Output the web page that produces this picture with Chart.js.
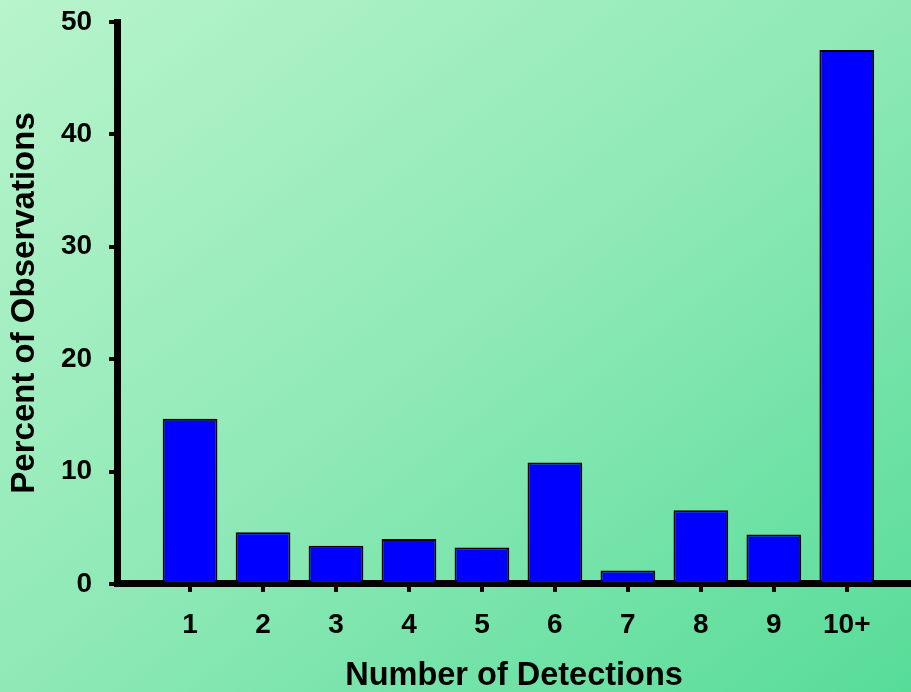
<!DOCTYPE html>
<html>
<head>
<meta charset="utf-8">
<script src="https://cdn.jsdelivr.net/npm/chart.js@4.4.0/dist/chart.umd.min.js"></script>
<style>
  html, body { margin: 0; padding: 0; }
  #wrap {
    width: 911px; height: 692px;
    background: linear-gradient(to bottom right, #b8f4cc 0%, #8fe9b7 50%, #57dc98 100%);
  }
  canvas { display: block; }
</style>
</head>
<body>
<div id="wrap"><canvas id="chart" width="911" height="692"></canvas></div>
<script>
// Detection-count histogram
const categories = ['1', '2', '3', '4', '5', '6', '7', '8', '9', '10+'];
const percentOfObservations = [14.7, 4.6, 3.4, 4.0, 3.25, 10.8, 1.2, 6.55, 4.4, 47.5];
const yTickValues = [0, 10, 20, 30, 40, 50];

const FONT = '"Liberation Sans", Arial, Helvetica, sans-serif';

const points = categories.map((c, i) => ({ x: i + 1, y: percentOfObservations[i] }));

new Chart(document.getElementById('chart'), {
  type: 'bar',
  data: {
    datasets: [{
      data: points,
      backgroundColor: '#0000ff',
      borderColor: '#000000',
      borderWidth: 2,
      categoryPercentage: 1.0,
      barPercentage: 0.75
    }]
  },
  options: {
    responsive: false,
    animation: false,
    events: [],
    layout: { padding: { top: 22, right: 0, bottom: 0, left: 0 } },
    plugins: { legend: { display: false }, tooltip: { enabled: false } },
    scales: {
      x: {
        type: 'linear',
        offset: false,
        min: 0,
        max: 10.88,
        grid: { offset: false, drawOnChartArea: false, drawTicks: true, tickLength: 8, lineWidth: 4, color: '#000' },
        border: { display: true, width: 7, color: '#000' },
        afterBuildTicks: (scale) => { scale.ticks = categories.map((c, i) => ({ value: i + 1 })); },
        ticks: {
          autoSkip: false,
          maxRotation: 0,
          padding: 17,
          color: '#000',
          font: { family: FONT, size: 28, weight: 'bold' },
          callback: (v) => categories[v - 1] ?? ''
        },
        title: {
          display: true,
          text: 'Number of Detections',
          color: '#000',
          padding: { top: 0, bottom: 0 },
          font: { family: FONT, size: 32.5, weight: 'bold', lineHeight: 1.0 }
        }
      },
      y: {
        min: 0,
        max: 50,
        grid: { drawOnChartArea: false, drawTicks: true, tickLength: 8, lineWidth: 4, color: '#000' },
        border: { display: true, width: 7, color: '#000' },
        afterBuildTicks: (scale) => { scale.ticks = yTickValues.map(v => ({ value: v })); },
        ticks: {
          padding: 17,
          color: '#000',
          font: { family: FONT, size: 28, weight: 'bold', lineHeight: 0.3 }
        },
        title: {
          display: true,
          text: 'Percent of Observations',
          color: '#000',
          padding: { top: 6, bottom: 0 },
          font: { family: FONT, size: 33, weight: 'bold', lineHeight: 1.15 }
        }
      }
    }
  }
});
</script>
</body>
</html>
